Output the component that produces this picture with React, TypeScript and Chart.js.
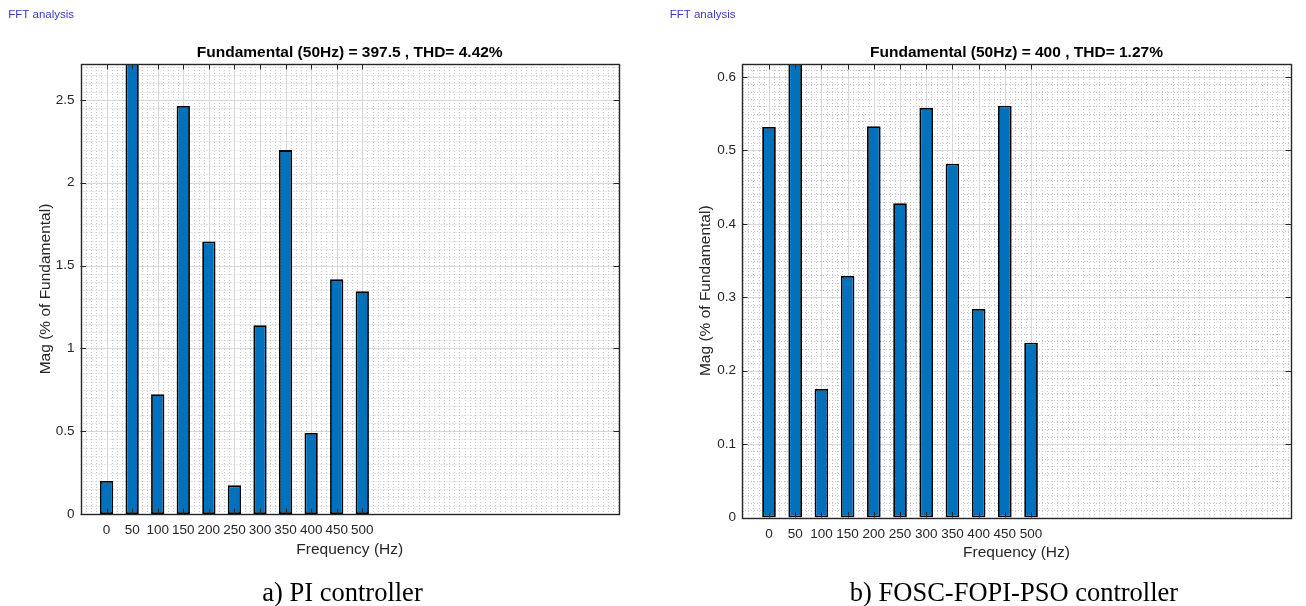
import React, { useEffect, useRef } from "react";
import { Chart, registerables } from "chart.js";

Chart.register(...registerables);

// Harmonic orders shown on the spectrum (Hz)
const FREQS = [0, 50, 100, 150, 200, 250, 300, 350, 400, 450, 500];
// Harmonic magnitudes in % of the fundamental (the 50 Hz bar is the fundamental itself)
const PI_MAG = [0.2, 100, 0.723, 2.463, 1.646, 0.173, 1.14, 2.197, 0.489, 1.418, 1.345];
const FOPI_MAG = [0.532, 100, 0.175, 0.329, 0.533, 0.428, 0.558, 0.482, 0.284, 0.561, 0.238];

const X_TICKS = FREQS;
const PI_Y_TICKS = [0, 0.5, 1, 1.5, 2, 2.5];
const FOPI_Y_TICKS = [0, 0.1, 0.2, 0.3, 0.4, 0.5, 0.6];

const PI_TITLE = "Fundamental (50Hz) = 397.5 , THD= 4.42%";
const FOPI_TITLE = "Fundamental (50Hz) = 400 , THD= 1.27%";
const PI_CAPTION = "a) PI controller";
const FOPI_CAPTION = "b) FOSC-FOPI-PSO controller";
const HEADER = "FFT analysis";
const X_LABEL = "Frequency (Hz)";
const Y_LABEL = "Mag (% of Fundamental)";

const SANS = '"Liberation Sans", Arial, Helvetica, sans-serif';
const SERIF = '"Liberation Serif", "Times New Roman", serif';
const INK = "#262626";
const BAR_FILL = "#0072BD";
const X_MINOR_STEP = 10;

type PanelSpec = {
  left: number;
  width: number;
  height: number;
  mags: number[];
  yTicks: number[];
  yMax: number;
  yMinorStep: number;
  xMin: number;
  xMax: number;
  title: string;
  caption: string;
  captionX: number;
  headerX: number;
  pad: { left: number; right: number; bottom: number };
  yAxisWidth: number;
  titlePad: { top: number; bottom: number };
};

const PANELS: PanelSpec[] = [
  {
    left: 0,
    width: 653,
    height: 606,
    mags: PI_MAG,
    yTicks: PI_Y_TICKS,
    yMax: 2.717,
    yMinorStep: 0.05,
    xMin: -51,
    xMax: 1002,
    title: PI_TITLE,
    caption: PI_CAPTION,
    captionX: 342.5,
    headerX: 8.3,
    pad: { left: 32.2, right: 34, bottom: 43.2 },
    yAxisWidth: 80.5 - 32.2,
    titlePad: { top: 43.7, bottom: 1.7 },
  },
  {
    left: 653,
    width: 653,
    height: 606,
    mags: FOPI_MAG,
    yTicks: FOPI_Y_TICKS,
    yMax: 0.6177,
    yMinorStep: 0.01,
    xMin: -51.5,
    xMax: 996,
    title: FOPI_TITLE,
    caption: FOPI_CAPTION,
    captionX: 361,
    headerX: 16.7,
    pad: { left: 39.7, right: 15, bottom: 39.7 },
    yAxisWidth: 89 - 39.7,
    titlePad: { top: 43.2, bottom: 2.2 },
  },
];

const crisp = (v: number) => Math.round(v) + 0.5;

function framePlugin(spec: PanelSpec) {
  return {
    id: "matlabFrame",
    beforeDatasetsDraw(chart: any) {
      const { ctx, chartArea: a, scales } = chart;
      const xs = scales.x;
      const ys = scales.y;
      ctx.save();
      ctx.beginPath();
      ctx.rect(a.left, a.top, a.right - a.left, a.bottom - a.top);
      ctx.clip();

      // dotted minor grid
      ctx.setLineDash([1, 2]);
      ctx.lineWidth = 1;
      ctx.strokeStyle = "#c8c8c8";
      ctx.beginPath();
      const firstMinor = Math.ceil(xs.min / X_MINOR_STEP);
      const lastMinor = Math.floor(xs.max / X_MINOR_STEP);
      for (let i = firstMinor; i <= lastMinor; i++) {
        const px = crisp(xs.getPixelForValue(i * X_MINOR_STEP));
        ctx.moveTo(px, a.top);
        ctx.lineTo(px, a.bottom);
      }
      const yCount = Math.floor(ys.max / spec.yMinorStep + 1e-6);
      for (let i = 0; i <= yCount; i++) {
        const py = crisp(ys.getPixelForValue(i * spec.yMinorStep));
        ctx.moveTo(a.left, py);
        ctx.lineTo(a.right, py);
      }
      ctx.stroke();

      // solid major grid
      ctx.setLineDash([]);
      ctx.strokeStyle = "#d8d8d8";
      ctx.beginPath();
      X_TICKS.forEach((f) => {
        const px = crisp(xs.getPixelForValue(f));
        ctx.moveTo(px, a.top);
        ctx.lineTo(px, a.bottom);
      });
      spec.yTicks.forEach((v) => {
        const py = crisp(ys.getPixelForValue(v));
        ctx.moveTo(a.left, py);
        ctx.lineTo(a.right, py);
      });
      ctx.stroke();
      ctx.restore();
    },
    afterDraw(chart: any) {
      const { ctx, chartArea: a, scales } = chart;
      const xs = scales.x;
      const ys = scales.y;
      const tick = 5.5;
      ctx.save();
      ctx.strokeStyle = INK;
      ctx.lineWidth = 1;
      ctx.beginPath();
      // inward tick marks on all four sides
      X_TICKS.forEach((f) => {
        const px = crisp(xs.getPixelForValue(f));
        ctx.moveTo(px, a.bottom);
        ctx.lineTo(px, a.bottom - tick);
        ctx.moveTo(px, a.top);
        ctx.lineTo(px, a.top + tick);
      });
      spec.yTicks.forEach((v) => {
        const py = crisp(ys.getPixelForValue(v));
        ctx.moveTo(a.left, py);
        ctx.lineTo(a.left + tick, py);
        ctx.moveTo(a.right, py);
        ctx.lineTo(a.right - tick, py);
      });
      ctx.stroke();

      // axes box
      ctx.lineWidth = 1.4;
      ctx.strokeStyle = INK;
      ctx.strokeRect(
        Math.round(a.left) + 0.5,
        Math.round(a.top) + 0.5,
        Math.round(a.right) - Math.round(a.left),
        Math.round(a.bottom) - Math.round(a.top)
      );

      // window header
      ctx.fillStyle = "#3838c8";
      ctx.font = `11.5px ${SANS}`;
      ctx.textAlign = "left";
      ctx.textBaseline = "alphabetic";
      ctx.fillText(HEADER, spec.headerX, 18.3);

      // panel caption
      ctx.fillStyle = "#000";
      ctx.font = `26.5px ${SERIF}`;
      ctx.textAlign = "center";
      ctx.fillText(spec.caption, spec.captionX, 600.8);
      ctx.restore();
    },
  };
}

function Panel({ spec }: { spec: PanelSpec }) {
  const ref = useRef<HTMLCanvasElement | null>(null);

  useEffect(() => {
    if (!ref.current) return;
    const chart = new Chart(ref.current, {
      type: "bar",
      data: {
        datasets: [
          {
            data: FREQS.map((f, i) => ({ x: f, y: spec.mags[i] })),
            backgroundColor: BAR_FILL,
            borderColor: "#000",
            borderWidth: 1.8,
            borderSkipped: false,
            barPercentage: 0.52,
            categoryPercentage: 1,
          },
        ],
      },
      options: {
        responsive: false,
        animation: false,
        events: [],
        layout: {
          padding: { left: spec.pad.left, right: spec.pad.right, top: 0, bottom: spec.pad.bottom },
        },
        plugins: {
          legend: { display: false },
          tooltip: { enabled: false },
          title: {
            display: true,
            text: spec.title,
            fullSize: false,
            color: "#000",
            font: { family: SANS, size: 15.5, weight: "bold" },
            padding: spec.titlePad,
          },
        },
        scales: {
          x: {
            type: "linear",
            offset: false,
            min: spec.xMin,
            max: spec.xMax,
            grid: { display: false, drawTicks: false, offset: false },
            border: { display: false },
            afterBuildTicks: (s: any) => {
              s.ticks = X_TICKS.map((v) => ({ value: v }));
            },
            afterFit: (s: any) => {
              s.height = 48.8;
            },
            ticks: {
              autoSkip: false,
              maxRotation: 0,
              minRotation: 0,
              padding: 8.5,
              color: INK,
              font: { family: SANS, size: 13.5 },
              callback: (v: any) => String(v),
            },
            title: {
              display: true,
              text: X_LABEL,
              color: INK,
              font: { family: SANS, size: 15.5 },
              padding: { top: 4, bottom: 4 },
            },
          },
          y: {
            type: "linear",
            min: 0,
            max: spec.yMax,
            grid: { display: false, drawTicks: false },
            border: { display: false },
            afterBuildTicks: (s: any) => {
              s.ticks = spec.yTicks.map((v) => ({ value: v }));
            },
            afterFit: (s: any) => {
              s.width = spec.yAxisWidth;
            },
            ticks: {
              padding: 6,
              color: INK,
              font: { family: SANS, size: 13.5 },
              callback: (v: any) => String(v),
            },
            title: {
              display: true,
              text: Y_LABEL,
              color: INK,
              font: { family: SANS, size: 15.5 },
              padding: { top: 4, bottom: 4 },
            },
          },
        },
      } as any,
      plugins: [framePlugin(spec)],
    });
    return () => chart.destroy();
  }, [spec]);

  return (
    <canvas
      ref={ref}
      width={spec.width}
      height={spec.height}
      style={{ position: "absolute", left: spec.left, top: 0, width: spec.width, height: spec.height }}
    />
  );
}

export default function App() {
  return (
    <div style={{ position: "absolute", left: 0, top: 0, width: 1306, height: 606, background: "#fff" }}>
      {PANELS.map((p, i) => (
        <Panel key={i} spec={p} />
      ))}
    </div>
  );
}
